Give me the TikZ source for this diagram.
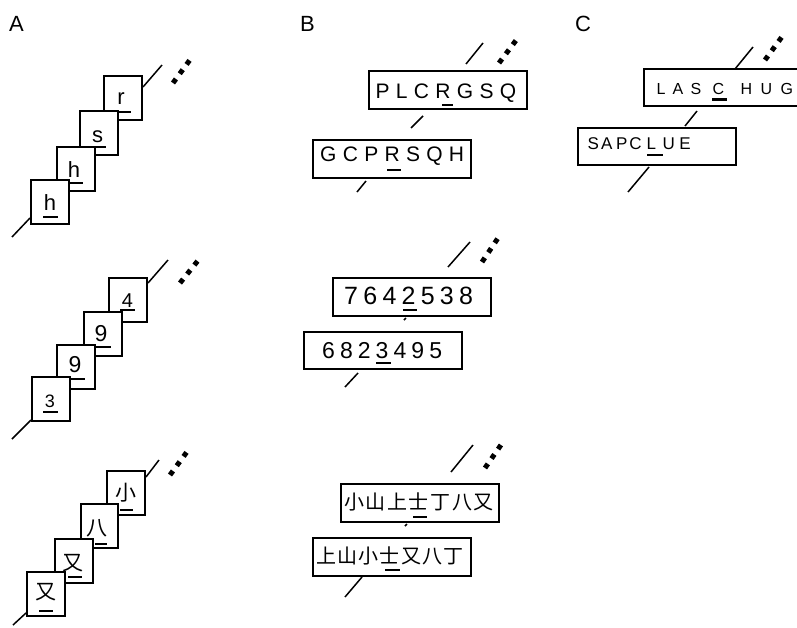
\documentclass[tikz,border=0pt]{standalone}
\usepackage{fontspec}
\setmainfont{Liberation Sans}
\newfontfamily\cjk{Noto Sans CJK SC}
\newcommand\fsz[1]{\fontsize{#1}{#1}\selectfont}
\newcommand\lat[2]{\rlap{\kern#1pt #2}}
\begin{document}
\begin{tikzpicture}[x=1pt,y=-1pt,
  sq/.style={draw,line width=2pt,fill=white,inner sep=0pt,minimum width=38pt,minimum height=44pt},
  wide/.style={draw,line width=2pt,fill=white,inner sep=0pt,minimum width=158pt,minimum height=38pt},
  txt/.style={inner sep=0pt,anchor=base},
  ctxt/.style={inner sep=0pt,anchor=center,font=\cjk\fsz{21}},
  ul/.style={line width=2.4pt},
  conn/.style={line width=1.5pt},
  dots/.style={line width=5pt,dash pattern=on 5pt off 6.5pt},
  lbl/.style={inner sep=0pt,anchor=base west,font=\fsz{22}}]
\useasboundingbox (0,0) rectangle (797,627);

% labels
\node[lbl] (LA) at (9,31) {A};
\node[lbl] (LB) at (300,31) {B};
\node[lbl] (LC) at (575,31) {C};

% ===== Panel A, row 1 =====
\coordinate (a1s) at (12,237); \coordinate (a1m) at (30,218);
\coordinate (a1n) at (143,87); \coordinate (a1e) at (162,65);
\draw[conn] (a1s) -- (a1m);
\draw[conn] (a1n) -- (a1e);
\coordinate (a1d1) at (173,83); \coordinate (a1d2) at (192,57);
\draw[dots] (a1d1) -- (a1d2);
\node[sq] (Ar) at (123,98) {};
\node[txt,font=\fsz{22}] (Art) at (121,104) {r};
\draw[ul] (116,112) -- (131,112);
\node[sq] (As) at (99,132.5) {};
\node[txt,font=\fsz{22}] (Ast) at (97.5,142) {s};
\draw[ul] (91,147) -- (106,147);
\node[sq] (Ah2) at (75.5,168.5) {};
\node[txt,font=\fsz{22}] (Ah2t) at (74,177) {h};
\draw[ul] (68,183) -- (83,183);
\node[sq] (Ah1) at (49.5,202) {};
\node[txt,font=\fsz{22}] (Ah1t) at (50,210) {h};
\draw[ul] (43,217) -- (58,217);

% ===== Panel A, row 2 =====
\coordinate (a2s) at (12,439); \coordinate (a2m) at (31,420);
\coordinate (a2n) at (148,283); \coordinate (a2e) at (168,260);
\draw[conn] (a2s) -- (a2m);
\draw[conn] (a2n) -- (a2e);
\coordinate (a2d1) at (180,283); \coordinate (a2d2) at (200,258);
\draw[dots] (a2d1) -- (a2d2);
\node[sq] (A4) at (128,299.5) {};
\node[txt,font=\fsz{20}] (A4t) at (127.5,307) {4};
\draw[ul] (120,310) -- (135,310);
\node[sq] (A9b) at (103,334) {};
\node[txt,font=\fsz{23}] (A9bt) at (101,341) {9};
\draw[ul] (96,347) -- (111,347);
\node[sq] (A9a) at (76,366.5) {};
\node[txt,font=\fsz{23}] (A9at) at (75,372) {9};
\draw[ul] (71,379) -- (85,379);
\node[sq] (A3) at (51,398.5) {};
\node[txt,font=\fsz{18}] (A3t) at (50,407) {3};
\draw[ul] (43,412) -- (58,412);

% ===== Panel A, row 3 =====
\coordinate (a3s) at (13,625); \coordinate (a3m) at (26,613);
\coordinate (a3n) at (146,477); \coordinate (a3e) at (159,460);
\draw[conn] (a3s) -- (a3m);
\draw[conn] (a3n) -- (a3e);
\coordinate (a3d1) at (170,475); \coordinate (a3d2) at (189,449);
\draw[dots] (a3d1) -- (a3d2);
\node[sq] (Ax) at (126,493) {};
\node[ctxt] (Axt) at (126,493) {小};
\draw[ul] (120,510) -- (133,510);
\node[sq,minimum width=37pt] (Ab) at (99,526) {};
\node[ctxt] (Abt) at (96.5,528.5) {八};
\draw[ul] (95,544) -- (107,544);
\node[sq] (Ay2) at (73.5,560.5) {};
\node[ctxt] (Ay2t) at (72.5,563) {又};
\draw[ul] (68,577) -- (82,577);
\node[sq] (Ay1) at (45.5,594) {};
\node[ctxt] (Ay1t) at (46,592.5) {又};
\draw[ul] (39,611) -- (53,611);

% ===== Panel B, row 1 =====
\coordinate (b1a) at (466,64); \coordinate (b1b) at (483,43);
\coordinate (b1c) at (411,128); \coordinate (b1d) at (423,116);
\coordinate (b1e) at (357,192); \coordinate (b1f) at (366,181);
\draw[conn] (b1a) -- (b1b);
\draw[conn] (b1c) -- (b1d);
\draw[conn] (b1e) -- (b1f);
\coordinate (b1d1) at (499,63); \coordinate (b1d2) at (517,39);
\draw[dots] (b1d1) -- (b1d2);
\node[wide] (B1u) at (447.5,90) {};
\node[txt,anchor=base west,font={\fsz{21}\addfontfeature{LetterSpace=30}}] (B1ut) at (375.5,98) {PLCRGSQ};
\draw[ul] (442,105) -- (453,105);
\node[wide] (B1l) at (391.5,159) {};
\node[txt,anchor=base west,font={\fsz{21}\addfontfeature{LetterSpace=30}}] (B1lt) at (320,161) {GCPRSQH};
\draw[ul] (387,170) -- (401,170);

% ===== Panel B, row 2 =====
\coordinate (b2a) at (448,267); \coordinate (b2b) at (470,242);
\coordinate (b2c) at (404,320); \coordinate (b2d) at (406,318);
\coordinate (b2e) at (345,387); \coordinate (b2f) at (358,373);
\draw[conn] (b2a) -- (b2b);
\draw[conn] (b2c) -- (b2d);
\draw[conn] (b2e) -- (b2f);
\coordinate (b2d1) at (482,262); \coordinate (b2d2) at (500,235);
\draw[dots] (b2d1) -- (b2d2);
\node[wide] (B2u) at (412,297) {};
\node[txt,anchor=base west,font={\fsz{25}\addfontfeature{LetterSpace=21}}] (B2ut) at (344,304) {7642538};
\draw[ul] (403,310) -- (417,310);
\node[wide,minimum height=37pt] (B2l) at (383,350.5) {};
\node[txt,anchor=base west,font={\fsz{23}\addfontfeature{LetterSpace=22}}] (B2lt) at (322,358) {6823495};
\draw[ul] (376,363) -- (391,363);

% ===== Panel B, row 3 =====
\coordinate (b3a) at (451,472); \coordinate (b3b) at (473,445);
\coordinate (b3c) at (405,526); \coordinate (b3d) at (407,524);
\coordinate (b3e) at (345,597); \coordinate (b3f) at (362,577);
\draw[conn] (b3a) -- (b3b);
\draw[conn] (b3c) -- (b3d);
\draw[conn] (b3e) -- (b3f);
\coordinate (b3d1) at (485,468); \coordinate (b3d2) at (503,442);
\draw[dots] (b3d1) -- (b3d2);
\node[wide] (B3u) at (420,503) {};
\node[inner sep=0pt,anchor=west,font={\cjk\fsz{20}\addfontfeature{LetterSpace=8}}] (B3ut) at (344,502) {小山上士丁八又};
\draw[ul] (413,517) -- (427,517);
\node[wide] (B3l) at (392,557) {};
\node[inner sep=0pt,anchor=west,font={\cjk\fsz{20}\addfontfeature{LetterSpace=6}}] (B3lt) at (316,556) {上山小士又八丁};
\draw[ul] (385,570) -- (400,570);

% ===== Panel C =====
\coordinate (c1a) at (735,69); \coordinate (c1b) at (753,47);
\coordinate (c1c) at (685,126); \coordinate (c1d) at (697,111);
\coordinate (c1e) at (628,192); \coordinate (c1f) at (649,167);
\draw[conn] (c1a) -- (c1b);
\draw[conn] (c1c) -- (c1d);
\draw[conn] (c1e) -- (c1f);
\coordinate (c1d1) at (765,60); \coordinate (c1d2) at (784,34);
\draw[dots] (c1d1) -- (c1d2);
\node[wide,minimum width=170pt,minimum height=37pt] (Cu) at (729,87.5) {};
\node[txt,anchor=base west,font=\fsz{16}] (Cut) at (656,94.5)
  {\lat{0}{L}\lat{16}{A}\lat{34}{S}\lat{56}{C}\lat{84}{H}\lat{104}{U}\lat{124}{G}};
\draw[ul] (712,99.5) -- (727,99.5);
\node[wide,minimum height=37pt] (Cl) at (657,146.5) {};
\node[txt,anchor=base west,font=\fsz{17}] (Clt) at (587,149)
  {\lat{0}{S}\lat{13.4}{A}\lat{28.4}{P}\lat{41.7}{C}\lat{59}{L}\lat{75}{U}\lat{91.7}{E}};
\draw[ul] (647,155) -- (663,155);
\end{tikzpicture}
\end{document}
